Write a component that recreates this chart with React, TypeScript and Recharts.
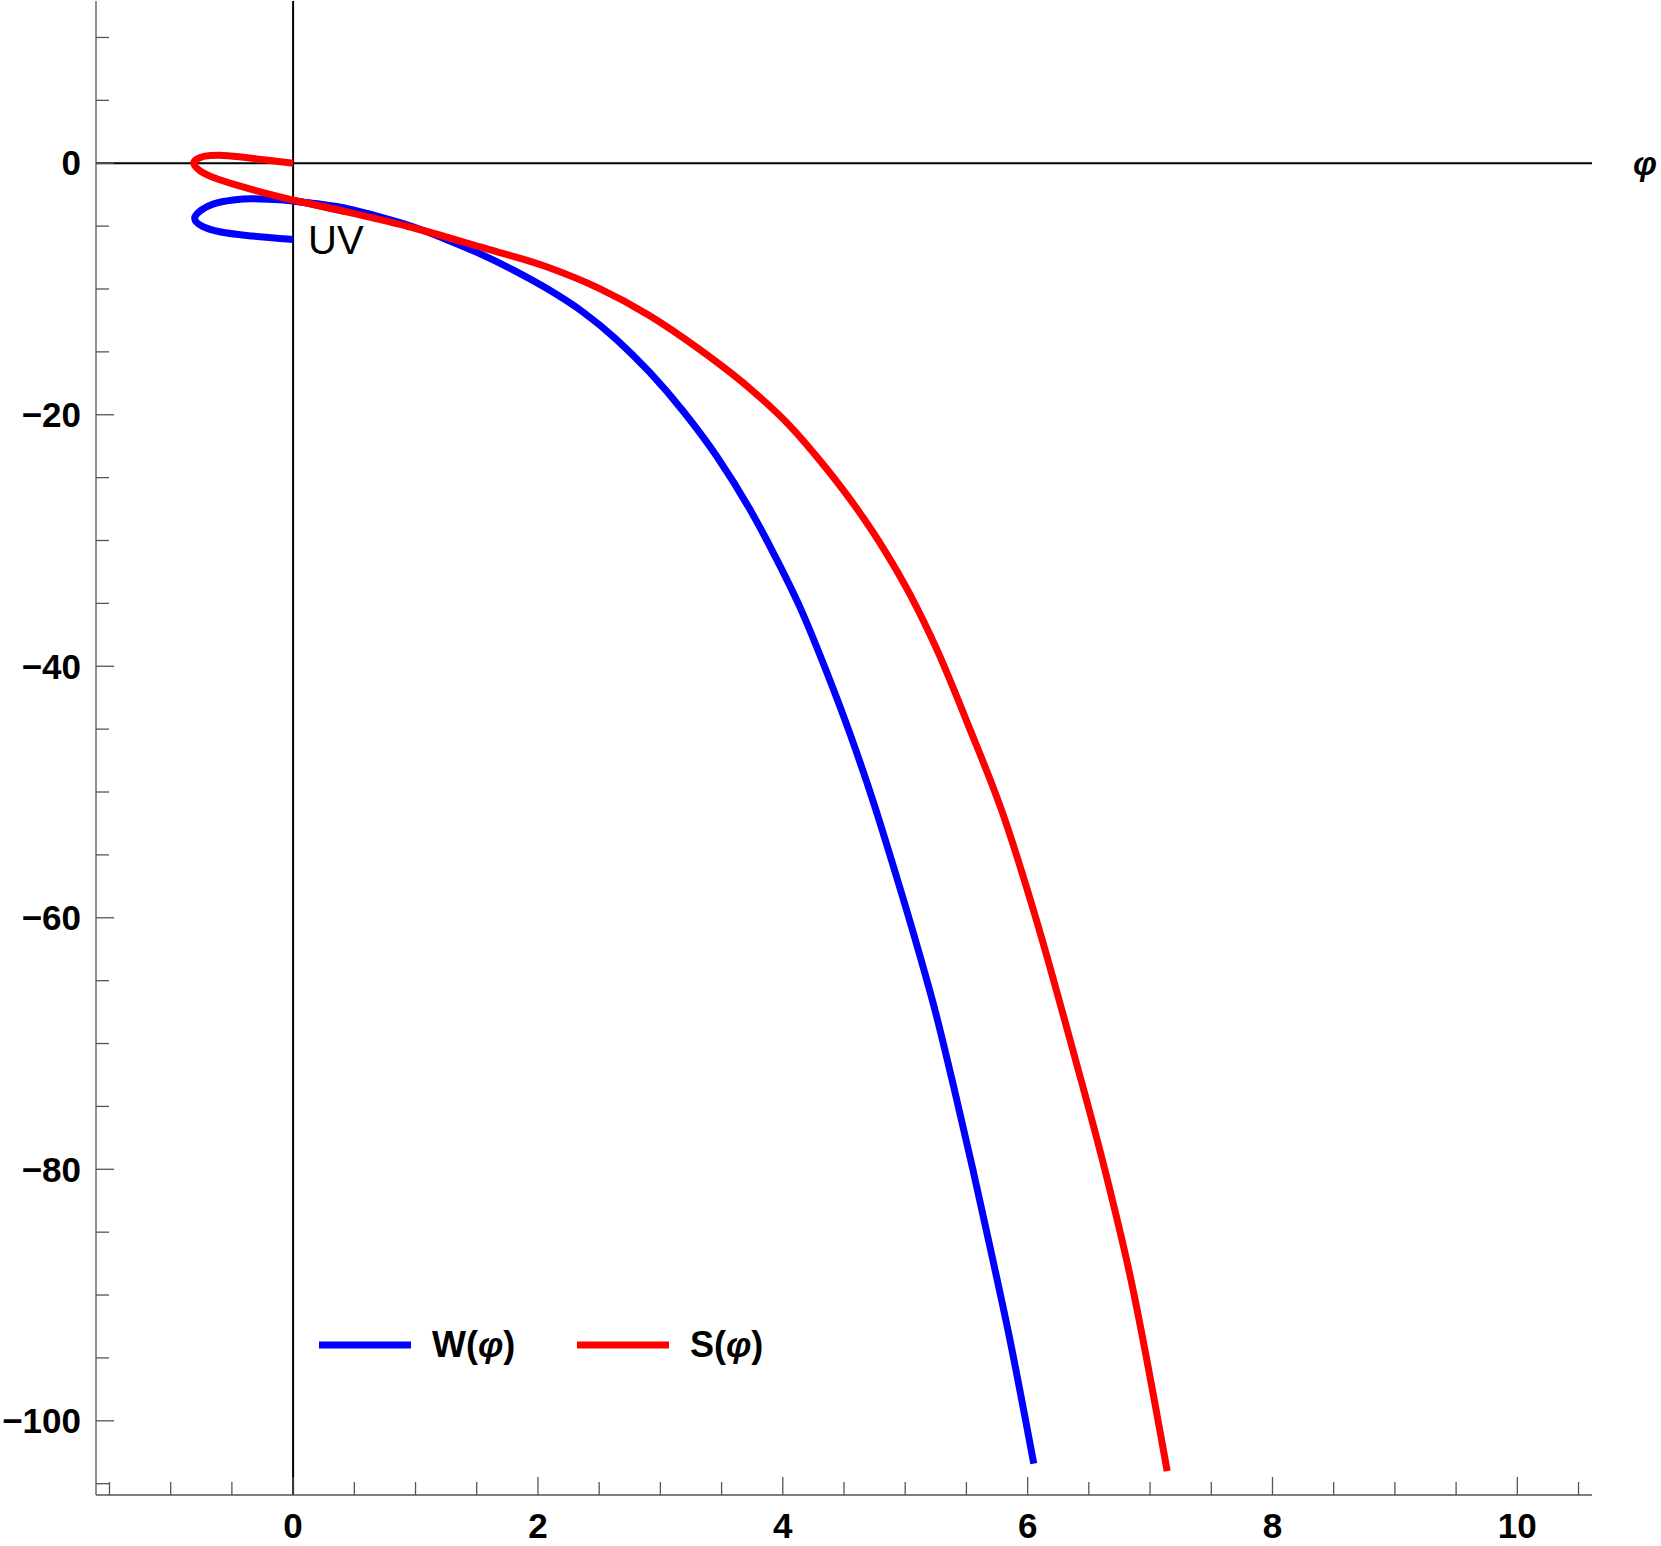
import { LineChart, Line, XAxis, YAxis, ReferenceLine, ReferenceDot, Legend } from "recharts";

// W(φ): parametric order, starting at the UV end
const wPhi = [0, -0.11, -0.38, -0.6, -0.736, -0.804, -0.75, -0.654, -0.49, -0.327, -0.164, 0, 0.435, 0.708, 0.98, 1.25, 1.52, 1.8, 2.07, 2.37, 2.64, 2.91, 3.185, 3.46, 3.73, 3.95, 4.14, 4.36, 4.55, 4.74, 4.9, 5.09, 5.25, 5.4, 5.55, 5.7, 5.85, 6.05];
const wVal = [-6.06, -5.98, -5.74, -5.45, -5.05, -4.39, -3.73, -3.25, -2.93, -2.83, -2.88, -3.01, -3.6, -4.26, -5.05, -6.06, -7.17, -8.5, -9.95, -11.85, -14.0, -16.6, -19.7, -23.3, -27.5, -31.5, -35.3, -40.5, -45.4, -50.8, -55.8, -62.0, -67.6, -73.6, -79.9, -86.5, -93.3, -103.4];

// S(φ): parametric order, starting at the origin
const sPhi = [0, -0.22, -0.44, -0.6, -0.72, -0.79, -0.81, -0.76, -0.65, -0.46, -0.22, 0, 0.435, 0.98, 1.52, 2.07, 2.5, 2.91, 3.32, 3.73, 4.05, 4.35, 4.6, 4.82, 5.04, 5.26, 5.52, 5.8, 6.06, 6.38, 6.63, 6.84, 7.14];
const sVal = [0, 0.25, 0.51, 0.64, 0.56, 0.3, -0.07, -0.6, -1.13, -1.74, -2.4, -2.93, -3.86, -5.13, -6.64, -8.23, -9.95, -12.1, -14.8, -17.9, -20.8, -24.2, -27.4, -30.6, -34.3, -38.7, -44.8, -51.8, -59.8, -70.9, -80.0, -88.6, -104.0];

// index where each curve crosses φ = 0 on its way out of the loop
const wSplit = 11;
const sSplit = 11;

const xTicks = [-1.5, -1, -0.5, 0, 0.5, 1, 1.5, 2, 2.5, 3, 3.5, 4, 4.5, 5, 5.5, 6, 6.5, 7, 7.5, 8, 8.5, 9, 9.5, 10, 10.5];
const xMajor = [0, 2, 4, 6, 8, 10];
const yTicks = [-105, -100, -95, -90, -85, -80, -75, -70, -65, -60, -55, -50, -45, -40, -35, -30, -25, -20, -15, -10, -5, 0, 5, 10];
const yMajor = [-100, -80, -60, -40, -20, 0];

const series = [
  { key: "W", label: "W(", color: "#0000ff" },
  { key: "S", label: "S(", color: "#ff0000" },
];

const FONT = '"Liberation Sans", Arial, sans-serif';
const FRAME = "#555";

const toPoints = (xs: number[], ys: number[]) => xs.map((x, i) => ({ x, y: ys[i] }));
const wData = toPoints(wPhi, wVal);
const sData = toPoints(sPhi, sVal);
// loop part (smooth parametric spline) and tail part (x increasing, monotone spline)
const wLoop = wData.slice(0, wSplit + 2);
const wTail = wData.slice(wSplit);
const sLoop = sData.slice(0, sSplit + 2);
const sTail = sData.slice(sSplit);

const fmt = (v: number) => (v < 0 ? `\u2212${Math.abs(v)}` : `${v}`);

function BottomTick(props: any) {
  const { x, y, payload } = props;
  const major = xMajor.includes(payload.value);
  return (
    <g>
      <line x1={x} x2={x} y1={y} y2={y - (major ? 18 : 13)} stroke={FRAME} strokeWidth={1.3} />
      {major && (
        <text x={x} y={y + 43} textAnchor="middle" fontFamily={FONT} fontWeight="bold" fontSize={35} fill="#000">
          {fmt(payload.value)}
        </text>
      )}
    </g>
  );
}

function TopTick(props: any) {
  const { x, y, payload } = props;
  const major = xMajor.includes(payload.value);
  return <line x1={x} x2={x} y1={y} y2={y + (major ? 18 : 13)} stroke={FRAME} strokeWidth={1.3} />;
}

function LeftTick(props: any) {
  const { x, y, payload } = props;
  const major = yMajor.includes(payload.value);
  return (
    <g>
      <line x1={x} x2={x + (major ? 18 : 13)} y1={y} y2={y} stroke={FRAME} strokeWidth={1.3} />
      {major && (
        <text x={x - 15} y={y} dy="0.35em" textAnchor="end" fontFamily={FONT} fontWeight="bold" fontSize={35} fill="#000">
          {fmt(payload.value)}
        </text>
      )}
    </g>
  );
}

function RightTick(props: any) {
  const { x, y, payload } = props;
  const major = yMajor.includes(payload.value);
  return <line x1={x} x2={x - (major ? 18 : 13)} y1={y} y2={y} stroke={FRAME} strokeWidth={1.3} />;
}

function LegendBox() {
  return (
    <svg width={480} height={56}>
      {series.map((s, i) => {
        const left = 19 + i * 258;
        return (
          <g key={s.key}>
            <line x1={left} x2={left + 92} y1={27} y2={27} stroke={s.color} strokeWidth={7} />
            <text x={left + 113} y={39} fontFamily={FONT} fontWeight="bold" fontSize={36} fill="#000">
              {s.label}
              <tspan fontStyle="italic">φ</tspan>)
            </text>
          </g>
        );
      })}
    </svg>
  );
}

const curveProps = {
  dataKey: "y",
  strokeWidth: 7,
  dot: false,
  activeDot: false,
  isAnimationActive: false,
} as const;

export default function App() {
  return (
    <div style={{ position: "absolute", left: 0, top: 0, background: "#fff" }}>
      <LineChart width={1661} height={1546} margin={{ top: 1, right: 69, bottom: 0, left: 0 }}>
        <XAxis
          type="number"
          dataKey="x"
          domain={[-1.61, 10.61]}
          allowDataOverflow
          ticks={xTicks}
          interval={0}
          height={51}
          tickSize={0}
          tickMargin={0}
          tick={<BottomTick />}
          axisLine={{ stroke: FRAME, strokeWidth: 1.3 }}
        />
        <XAxis
          xAxisId="top"
          orientation="top"
          type="number"
          dataKey="x"
          domain={[-1.61, 10.61]}
          allowDataOverflow
          ticks={xTicks}
          interval={0}
          height={0}
          tickSize={0}
          tickMargin={0}
          tick={<TopTick />}
          axisLine={{ stroke: FRAME, strokeWidth: 1.3 }}
        />
        <YAxis
          type="number"
          domain={[-105.9, 12.9]}
          allowDataOverflow
          ticks={yTicks}
          interval={0}
          width={96}
          tickSize={0}
          tickMargin={0}
          tick={<LeftTick />}
          axisLine={{ stroke: FRAME, strokeWidth: 1.3 }}
        />
        <YAxis
          yAxisId="right"
          orientation="right"
          type="number"
          domain={[-105.9, 12.9]}
          allowDataOverflow
          ticks={yTicks}
          interval={0}
          width={0}
          tickSize={0}
          tickMargin={0}
          tick={<RightTick />}
          axisLine={{ stroke: FRAME, strokeWidth: 1.3 }}
        />
        <ReferenceLine x={0} stroke="#000" strokeWidth={2} />
        <ReferenceLine
          y={0}
          stroke="#000"
          strokeWidth={2}
          label={{
            value: "φ",
            position: "right",
            offset: 41,
            fontFamily: FONT,
            fontWeight: "bold",
            fontStyle: "italic",
            fontSize: 34,
            fill: "#000",
          }}
        />
        <Line {...curveProps} data={wLoop} name="W" type="natural" stroke={series[0].color} />
        <Line {...curveProps} data={wTail} name="W tail" type="monotone" stroke={series[0].color} />
        <Line {...curveProps} data={sLoop} name="S" type="natural" stroke={series[1].color} />
        <Line {...curveProps} data={sTail} name="S tail" type="monotone" stroke={series[1].color} />
        <ReferenceDot
          x={0}
          y={-6.06}
          r={1}
          fill="none"
          stroke="none"
          label={{ value: "UV", position: "right", offset: 14, fontFamily: FONT, fontSize: 40, fill: "#000" }}
        />
        <Legend
          layout="horizontal"
          verticalAlign="middle"
          align="center"
          content={<LegendBox />}
          wrapperStyle={{ left: 300, top: 1318, width: 480, height: 56 }}
        />
      </LineChart>
    </div>
  );
}
